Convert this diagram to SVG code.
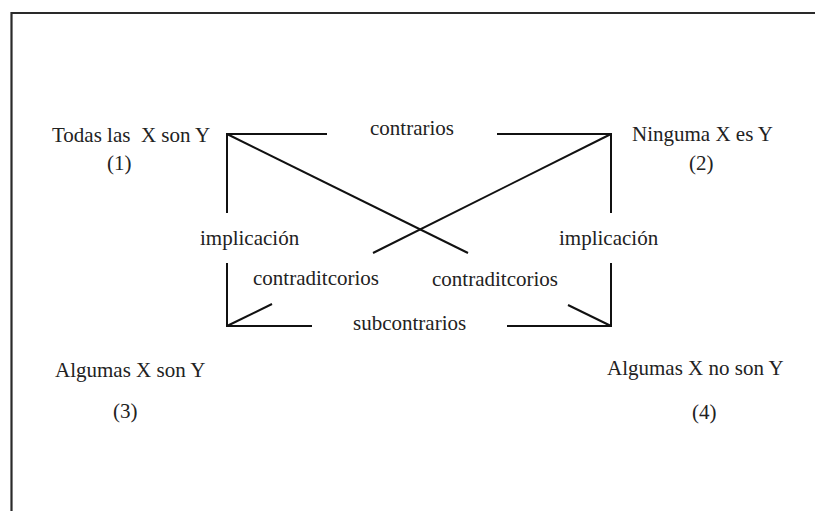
<svg xmlns="http://www.w3.org/2000/svg" width="815" height="511" viewBox="0 0 815 511">
<style>
text{font-family:"Liberation Serif","Times New Roman",serif;font-size:21px;fill:#222}
.ln{stroke:#111;stroke-width:2;fill:none;stroke-linecap:butt}
.frame{stroke:#2a2a2a;stroke-width:2.2;fill:none}
</style>
<rect width="815" height="511" fill="#fff"/>
<path class="frame" d="M11.5,511 V13 H815"/>
<g id="connectors">
<path class="ln" d="M327,134 H227 V213"/>
<path class="ln" d="M497,134 H611 V213"/>
<path class="ln" d="M227,134 L468,253"/>
<path class="ln" d="M611,134 L373,253"/>
<path class="ln" d="M227,263 V326 H312"/>
<path class="ln" d="M227,326 L272,304"/>
<path class="ln" d="M611,263 V326 H507"/>
<path class="ln" d="M611,326 L568,305"/>
</g>
<g id="edge-labels">
<text x="370" y="135">contrarios</text>
<text x="200" y="245">implicación</text>
<text x="559" y="245">implicación</text>
<text x="253" y="285">contraditcorios</text>
<text x="432" y="286">contraditcorios</text>
<text x="353" y="330">subcontrarios</text>
</g>
<g id="n1">
<text x="52" y="142" xml:space="preserve">Todas las  X son Y</text>
<text x="107" y="170">(1)</text>
</g>
<g id="n2">
<text x="632" y="141">Ninguma X es Y</text>
<text x="689" y="170">(2)</text>
</g>
<g id="n3">
<text x="55" y="377">Algumas X son Y</text>
<text x="113" y="418">(3)</text>
</g>
<g id="n4">
<text x="607" y="375">Algumas X no son Y</text>
<text x="692" y="419">(4)</text>
</g>
</svg>
